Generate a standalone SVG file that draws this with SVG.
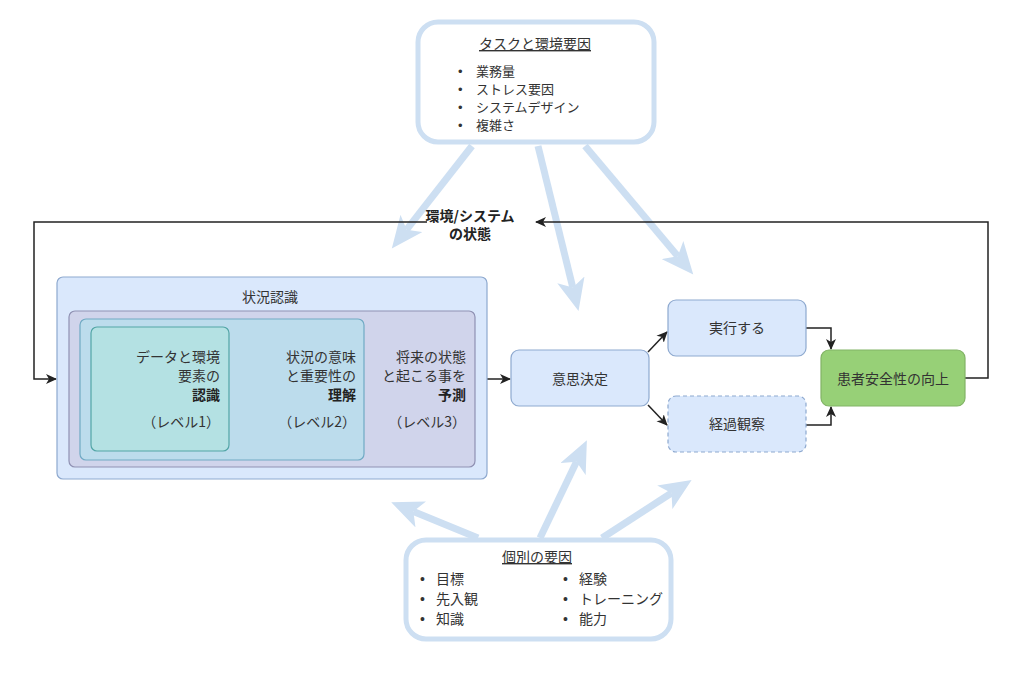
<svg xmlns="http://www.w3.org/2000/svg" width="1024" height="676" viewBox="0 0 1024 676">
<style>
text{font-family:"Noto Sans CJK JP","Noto Sans",sans-serif;font-size:14px;fill:#333}
.s{font-size:13px}
.bl{font-family:"Liberation Sans",sans-serif}
.b{font-weight:bold;fill:#222}
.r{text-anchor:end}
.c{text-anchor:middle}
.fat{stroke:#cddff2;stroke-width:7;fill:none;marker-end:url(#fat)}
.con{stroke:#222;stroke-width:1.5;fill:none}
.ah{marker-end:url(#ah)}
.box{fill:#dae8fc;stroke:#8ea9cf;stroke-width:1.2}
</style>
<defs>
<marker id="fat" markerUnits="userSpaceOnUse" markerWidth="34" markerHeight="28" viewBox="0 0 34 28" refX="8" refY="14" orient="auto">
<path d="M0,0 L32,14 L0,28 L8,14 Z" fill="#cddff2"/>
</marker>
<marker id="ah" markerUnits="userSpaceOnUse" markerWidth="12" markerHeight="12" viewBox="0 0 12 12" refX="10" refY="6" orient="auto">
<path d="M0,1 L11,6 L0,11 L3,6 Z" fill="#222"/>
</marker>
</defs>
<rect width="1024" height="676" fill="#fff"/>
<g id="influence-arrows">
<line class="fat" x1="472" y1="146" x2="406.6" y2="229.7"/>
<line class="fat" x1="538" y1="146" x2="572.8" y2="287.6"/>
<line class="fat" x1="585" y1="146" x2="677.8" y2="256.2"/>
<line class="fat" x1="478" y1="538" x2="413.4" y2="511.4"/>
<line class="fat" x1="540" y1="538" x2="576.5" y2="461.8"/>
<line class="fat" x1="602" y1="538" x2="671.5" y2="493"/>
</g>
<g id="connectors">
<path class="con ah" d="M487,379 L510,379"/>
<path class="con ah" d="M648,352 L667,332"/>
<path class="con ah" d="M648,405 L667,425"/>
<path class="con ah" d="M806,328 L831,328 L831,349"/>
<path class="con ah" d="M806,425 L831,425 L831,407"/>
<path class="con ah" d="M965,378 L988,378 L988,222 L536,222"/>
<path class="con ah" d="M427,222 L34,222 L34,379 L56,379"/>
<text class="b c" x="470" y="221">環境/システム</text>
<text class="b c" x="470" y="239">の状態</text>
</g>
<g id="task-factors">
<rect x="418" y="22" width="236" height="120" rx="20" fill="#fff" stroke="#cddff2" stroke-width="5"/>
<text class="c" x="535" y="49" text-decoration="underline">タスクと環境要因</text>
<text class="bl s" x="458" y="76">•</text><text class="s" x="476" y="76">業務量</text>
<text class="bl s" x="458" y="94">•</text><text class="s" x="476" y="94">ストレス要因</text>
<text class="bl s" x="458" y="112">•</text><text class="s" x="476" y="112">システムデザイン</text>
<text class="bl s" x="458" y="130">•</text><text class="s" x="476" y="130">複雑さ</text>
</g>
<g id="individual-factors">
<rect x="406" y="540" width="265" height="99" rx="20" fill="#fff" stroke="#cddff2" stroke-width="5"/>
<text class="c" x="537" y="562" text-decoration="underline">個別の要因</text>
<text class="bl" x="420" y="584">•</text><text x="436" y="584">目標</text>
<text class="bl" x="420" y="604">•</text><text x="436" y="604">先入観</text>
<text class="bl" x="420" y="624">•</text><text x="436" y="624">知識</text>
<text class="bl" x="563" y="584">•</text><text x="579" y="584">経験</text>
<text class="bl" x="563" y="604">•</text><text x="579" y="604">トレーニング</text>
<text class="bl" x="563" y="624">•</text><text x="579" y="624">能力</text>
</g>
<g id="situation-awareness">
<rect x="57" y="277" width="430" height="202" rx="6" class="box"/>
<text class="c" x="270" y="302">状況認識</text>
</g>
<g id="level3">
<rect x="69" y="311" width="406" height="156" rx="6" fill="#d0d4eb" stroke="#8f91b3" stroke-width="1.2"/>
<text class="r" x="466" y="362">将来の状態</text>
<text class="r" x="466" y="381">と起こる事を</text>
<text class="r b" x="466" y="400">予測</text>
<text class="r" x="466" y="427">（レベル3）</text>
</g>
<g id="level2">
<rect x="80" y="319" width="284" height="141" rx="6" fill="#bcdcec" stroke="#70aac4" stroke-width="1.2"/>
<text class="r" x="356" y="362">状況の意味</text>
<text class="r" x="356" y="381">と重要性の</text>
<text class="r b" x="356" y="400">理解</text>
<text class="r" x="356" y="427">（レベル2）</text>
</g>
<g id="level1">
<rect x="91" y="327" width="138" height="124" rx="6" fill="#b4e1e3" stroke="#52a5a6" stroke-width="1.2"/>
<text class="r" x="220" y="362">データと環境</text>
<text class="r" x="220" y="381">要素の</text>
<text class="r b" x="220" y="400">認識</text>
<text class="r" x="220" y="427">（レベル1）</text>
</g>
<g id="decision">
<rect x="511" y="350" width="138" height="56" rx="8" class="box"/>
<text class="c" x="580" y="384">意思決定</text>
</g>
<g id="execute">
<rect x="668" y="300" width="138" height="56" rx="8" class="box"/>
<text class="c" x="737" y="333">実行する</text>
</g>
<g id="observe">
<rect x="668" y="396" width="138" height="56" rx="8" class="box" stroke-dasharray="4 3"/>
<text class="c" x="737" y="429">経過観察</text>
</g>
<g id="patient-safety">
<rect x="821" y="350" width="144" height="56" rx="8" fill="#97d077" stroke="#82b366" stroke-width="1.2"/>
<text class="c" x="893" y="384">患者安全性の向上</text>
</g>
</svg>
